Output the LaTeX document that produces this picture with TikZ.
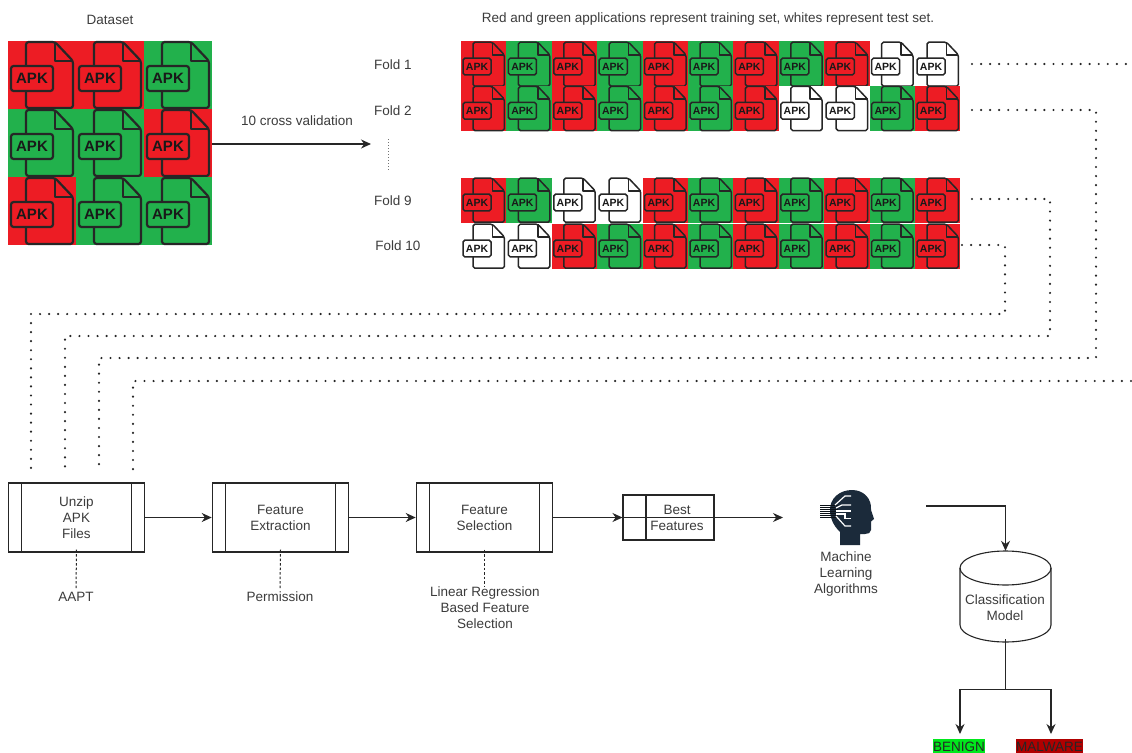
\documentclass[tikz,border=0pt]{standalone}
\usepackage{fontspec}
\setmainfont{Liberation Sans}
\usetikzlibrary{arrows.meta}
\definecolor{apkred}{HTML}{ED1C24}
\definecolor{apkgreen}{HTML}{22B14C}
\definecolor{apkwhite}{HTML}{FFFFFF}
\definecolor{inkline}{HTML}{262626}
\definecolor{inktext}{HTML}{3C3C3C}
\definecolor{headnavy}{HTML}{1B2A3A}
\definecolor{benigngreen}{HTML}{00E81C}
\definecolor{malwarered}{HTML}{B00000}
\newcommand{\apkcell}[6]{% x, y, width, colour, line width, font size
  \begin{scope}[shift={(#1,#2)},scale=#3/68]
    \fill[#4] (0,0) rectangle (68,68);
    \draw[draw=black!85,line width=#5,line join=round,rounded corners=#5*1.2]
      (18,25) -- (18,1) -- (47,1) -- (65,20) -- (65,67) -- (18,67) -- (18,50);
    \draw[draw=black!85,line width=#5,line join=round] (47,1) -- (47,20) -- (65,20);
    \draw[draw=black!85,line width=#5,rounded corners=#5*1.2] (3,25) rectangle (45,50);
    \node[inner sep=0pt,text=black!90,font=\fontsize{#6}{#6}\selectfont\bfseries] at (24,37.5) {APK};
  \end{scope}}
\tikzset{
  x=1pt,y=-1pt,
  txt/.style={inner sep=0pt,text=inktext,align=center,font=\fontsize{13.5}{16}\selectfont},
  procbox/.style={draw=inkline,line width=1.1pt,fill=white},
  flow/.style={draw=inkline,line width=1.2pt,-{Stealth[length=10pt,width=9pt]}},
  dots/.style={draw=black!85,line width=2.4pt,line cap=round,dash pattern=on 0pt off 9.05pt},
  dashline/.style={draw=inkline,line width=1pt,dash pattern=on 2.5pt off 2pt},
  hollow/.style={inner sep=0pt,minimum width=0pt,minimum height=0pt}
}
\begin{document}
\begin{tikzpicture}
\clip (0,0) rectangle (1132,752);
\fill[white] (0,0) rectangle (1132,752);

% dataset grid
\foreach \c [count=\i from 0] in {apkred,apkred,apkgreen,apkgreen,apkgreen,apkred,apkred,apkgreen,apkgreen}{
  \pgfmathsetmacro{\cx}{8+68*mod(\i,3)}
  \pgfmathsetmacro{\cy}{41+68*floor(\i/3)}
  \apkcell{\cx}{\cy}{68}{\c}{2.2pt}{15}
}
\node[hollow,minimum width=204pt,minimum height=204pt] (dataset) at (110,143) {};

% fold rows
\foreach \c [count=\i from 0] in {apkred,apkgreen,apkred,apkgreen,apkred,apkgreen,apkred,apkgreen,apkred,apkwhite,apkwhite}{
  \pgfmathsetmacro{\cx}{461+45.4*\i}
  \apkcell{\cx}{41.5}{45.4}{\c}{1.5pt}{10.5}
}
\foreach \c [count=\i from 0] in {apkred,apkgreen,apkred,apkgreen,apkred,apkgreen,apkred,apkwhite,apkwhite,apkgreen,apkred}{
  \pgfmathsetmacro{\cx}{461+45.4*\i}
  \apkcell{\cx}{85.8}{45.4}{\c}{1.5pt}{10.5}
}
\foreach \c [count=\i from 0] in {apkred,apkgreen,apkwhite,apkwhite,apkred,apkgreen,apkred,apkgreen,apkred,apkgreen,apkred}{
  \pgfmathsetmacro{\cx}{461+45.4*\i}
  \apkcell{\cx}{177.5}{45.4}{\c}{1.5pt}{10.5}
}
\foreach \c [count=\i from 0] in {apkwhite,apkwhite,apkred,apkgreen,apkred,apkgreen,apkred,apkgreen,apkred,apkgreen,apkred}{
  \pgfmathsetmacro{\cx}{461+45.4*\i}
  \apkcell{\cx}{223.5}{45.4}{\c}{1.5pt}{10.5}
}

% top texts
\node[txt] (dslabel) at (110,19.5) {Dataset};
\node[txt] (toplabel) at (708,19.5) {Red and green applications represent training set, whites represent test set.};
\node[txt] (fold1) at (393,65) {Fold 1};
\node[txt] (fold2) at (393,110.5) {Fold 2};
\node[txt] (fold9) at (393,200.5) {Fold 9};
\node[txt] (fold10) at (398,246) {Fold 10};
\node[txt] (cvlabel) at (297,121) {10 cross validation};

% cross-validation arrow
\coordinate (cvend) at (371,144);
\draw[flow] (dataset.east |- cvend) -- (cvend);
\coordinate (vdotsA) at (388,139);
\coordinate (vdotsB) at (388,171);
\draw[draw=black!55,line width=1pt,dash pattern=on 1pt off 2pt] (vdotsA) -- (vdotsB);

% process boxes
\newcommand{\procnode}[4]{%
  \node[procbox,minimum width=136.5pt,minimum height=69pt,inner sep=0pt] (#1) at (#2,517.5) {};
  \draw[draw=inkline,line width=1.1pt] ([xshift=14pt]#1.north west) -- ([xshift=14pt]#1.south west);
  \draw[draw=inkline,line width=1.1pt] ([xshift=-14pt]#1.north east) -- ([xshift=-14pt]#1.south east);
  \node[txt] at (#1.center) {#3};}
\procnode{unzip}{76.5}{Unzip\\APK\\Files}{}
\procnode{extract}{280.5}{Feature\\Extraction}{}
\procnode{select}{484.5}{Feature\\Selection}{}

\node[procbox,minimum width=91pt,minimum height=45pt,inner sep=0pt] (best) at (668.5,517.5) {};
\draw[draw=inkline,line width=1.1pt] (best.north west -| 646,0) -- (best.south west -| 646,0);
\draw[draw=inkline,line width=1.1pt] (best.west) -- (best.east);
\node[txt] (besttext) at (677,518) {Best\\Features};

\coordinate (mlin) at (783,517.5);
\draw[flow] (unzip.east) -- (extract.west);
\draw[flow] (extract.east) -- (select.west);
\draw[flow] (select.east) -- (best.west);
\draw[flow] (best.east) -- (mlin);

% dashed annotations
\node[txt] (aapt) at (76,597) {AAPT};
\node[txt] (perm) at (280,597) {Permission};
\node[txt] (lrfs) at (485,608) {Linear Regression\\Based Feature\\Selection};
\draw[dashline] ([yshift=3pt]unzip.south) -- ([yshift=3pt]aapt.north);
\draw[dashline] ([yshift=3pt]extract.south) -- ([yshift=3pt]perm.north);
\draw[dashline] ([yshift=3pt]select.south) -- (484.5,587);

% dotted routes
\coordinate (r1s) at (972,64);
\coordinate (r1e) at (1140,64);
\coordinate (r2s) at (972,110);
\coordinate (r3s) at (972,199);
\coordinate (r4s) at (962,245);
\draw[dots] (r1s) -- (r1e);
\draw[dots] (r2s) -- (1096,110) -- (1096,358) -- (99,358) -- (99,471);
\draw[dots] (r3s) -- (1050,199) -- (1050,336) -- (65,336) -- (65,471);
\draw[dots] (r4s) -- (1005,245) -- (1005,314) -- (31,314) -- (31,471);
\draw[dots] (1140,381) -- (133,381) -- (133,471);

% machine learning head
\begin{scope}
  \fill[headnavy] (840,545) -- (840,532) .. controls (836,528) and (831,522) .. (830,512)
    .. controls (829,498) and (840,490) .. (852,490)
    .. controls (864,490) and (872,499) .. (871,510)
    -- (874,519) -- (871,521.5) -- (871,530) .. controls (871,533) and (868,534) .. (865,534)
    -- (860,534) -- (860,545) -- cycle;
  \foreach \yy in {505,507,509,511,513,515,517}{
    \draw[draw=black!60!headnavy,line width=1pt] (820,\yy) -- (838,\yy);
  }
  \draw[white,line width=1.2pt] (835,505) -- (845,496) -- (851,496);
  \draw[white,line width=1.2pt] (836,508) -- (842,505) -- (851,505);
  \draw[white,line width=1.2pt] (836,511) -- (851,511);
  \draw[white,line width=1.2pt] (836,514) -- (845,514) -- (845,518.5) -- (851,518.5);
  \draw[white,line width=1.2pt] (836,516) -- (845,526) -- (851,526);
\end{scope}
\node[hollow,minimum width=54pt,minimum height=55pt] (head) at (846,517.5) {};
\node[txt] (mllabel) at (846,574.5) {Machine\\Learning\\Algorithms};

% classification model
\coordinate (mlout) at (926,506);
\node[hollow,minimum width=91pt,minimum height=91pt] (cyl) at (1005.5,596.5) {};
\draw[draw=inkline,line width=1.1pt,fill=white]
  (960,568) .. controls (960,558.6) and (980.4,551) .. (1005.5,551)
  .. controls (1030.6,551) and (1051,558.6) .. (1051,568)
  -- (1051,625) .. controls (1051,634.4) and (1030.6,642) .. (1005.5,642)
  .. controls (980.4,642) and (960,634.4) .. (960,625) -- cycle;
\draw[draw=inkline,line width=1.1pt]
  (960,568) .. controls (960,577.4) and (980.4,585) .. (1005.5,585)
  .. controls (1030.6,585) and (1051,577.4) .. (1051,568);
\node[txt] (cyltext) at (1005,608) {Classification\\Model};
\draw[flow] (mlout) -- (cyl.north |- mlout) -- (cyl.north);

% outcomes
\node[inner sep=0pt,minimum width=52pt,minimum height=15pt,fill=benigngreen,text=black!85,font=\fontsize{13.5}{13.5}\selectfont] (benign) at (959,746.5) {BENIGN};
\node[inner sep=0pt,minimum width=67pt,minimum height=15pt,fill=malwarered,text=black!85,font=\fontsize{13.5}{13.5}\selectfont] (malware) at (1049.5,746.5) {MALWARE};
\coordinate (split) at (1005.5,689.5);
\coordinate (splitL) at (960,689.5);
\coordinate (splitR) at (1051,689.5);
\coordinate (endL) at (960,734);
\coordinate (endR) at (1051,734);
\draw[draw=inkline,line width=1.2pt] ([yshift=3pt]cyl.south) -- (split);
\draw[flow] (split) -- (splitL) -- (endL);
\draw[flow] (split) -- (splitR) -- (endR);
\end{tikzpicture}
\end{document}
